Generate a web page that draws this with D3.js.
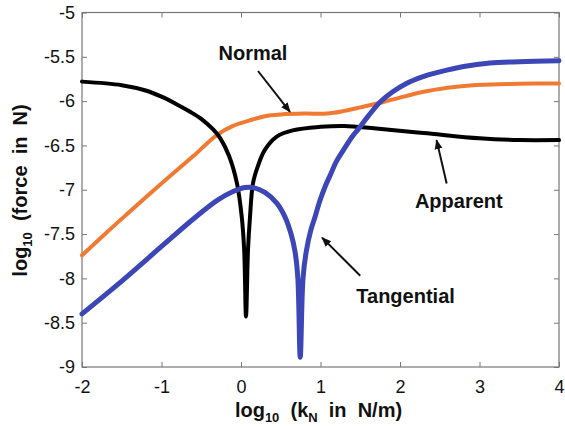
<!DOCTYPE html>
<html>
<head>
<meta charset="utf-8">
<script src="https://cdn.jsdelivr.net/npm/d3@7"></script>
<style>
  body { margin: 0; background: #fff; }
  text { font-family: Arial, "Liberation Sans", sans-serif; }
  .tick text { font-size: 18px; fill: #111; }
  .axis-title { font-size: 20px; font-weight: bold; fill: #111; }
  .note { font-size: 20px; font-weight: bold; fill: #111; }
</style>
</head>
<body>
<svg id="chart" width="565" height="427"></svg>
<script>
// log10 of spring stiffness kN (N/m) against log10 of the force (N)
var apparentX = [-2, -1.5, -1.2, -1.0, -0.8, -0.64, -0.5, -0.35, -0.26, -0.15, -0.05, 0.01, 0.04, 0.063, 0.088, 0.113, 0.15, 0.21, 0.30, 0.45, 0.65, 1.0, 1.3, 1.7, 2.3, 3.0, 3.5, 4.0];
var apparentY = [-5.78, -5.82, -5.88, -5.95, -6.04, -6.12, -6.2, -6.32, -6.42, -6.62, -6.93, -7.31, -7.68, -8.43, -7.68, -7.31, -6.93, -6.74, -6.55, -6.40, -6.33, -6.29, -6.28, -6.31, -6.36, -6.42, -6.44, -6.44];

var normalX = [-2, -1.7, -1.44, -1.0, -0.6, -0.3, -0.1, 0.1, 0.3, 0.5, 0.8, 1.08, 1.3, 1.5, 1.79, 2.0, 2.3, 2.6, 2.92, 3.5, 4.0];
var normalY = [-7.74, -7.49, -7.28, -6.93, -6.62, -6.38, -6.28, -6.22, -6.17, -6.15, -6.14, -6.14, -6.11, -6.07, -6.01, -5.96, -5.895, -5.85, -5.82, -5.805, -5.80];

var tangentialX = [-2, -1.5, -1.0, -0.6, -0.3, -0.1, 0.05, 0.15, 0.3, 0.45, 0.55, 0.63, 0.68, 0.715, 0.745, 0.78, 0.82, 0.88, 0.93, 0.99, 1.06, 1.13, 1.2, 1.29, 1.4, 1.48, 1.6, 1.75, 1.9, 2.08, 2.3, 2.5, 2.8, 3.13, 3.5, 4.0];
var tangentialY = [-8.40, -8.03, -7.64, -7.33, -7.12, -7.02, -6.975, -6.975, -7.03, -7.15, -7.30, -7.50, -7.70, -8.0, -8.89, -8.0, -7.70, -7.45, -7.31, -7.13, -6.96, -6.82, -6.68, -6.55, -6.40, -6.31, -6.17, -6.01, -5.90, -5.80, -5.72, -5.67, -5.61, -5.57, -5.555, -5.545];

var xTicks = [-2, -1, 0, 1, 2, 3, 4];
var yTicks = [-9, -8.5, -8, -7.5, -7, -6.5, -6, -5.5, -5];

// labels with arrows, in data units: text anchor, arrow tail, arrow tip
var noteText = ["Normal", "Apparent", "Tangential"];
var noteAt = [[0.15, -5.54], [2.74, -7.21], [2.07, -8.28]];
var noteFrom = [[0.214, -5.66], [2.587, -6.93], [1.50, -7.97]];
var noteTo = [[0.616, -6.12], [2.46, -6.44], [1.02, -7.54]];

var svg = d3.select("#chart");
var margin = {top: 12.5, right: 6, bottom: 60, left: 82};
var width = 565 - margin.left - margin.right;
var height = 427 - margin.top - margin.bottom;

var x = d3.scaleLinear().domain([-2, 4]).range([0, width]);
var y = d3.scaleLinear().domain([-9, -5]).range([height, 0]);

var g = svg.append("g").attr("transform", "translate(" + margin.left + "," + margin.top + ")");

var defs = svg.append("defs");
defs.append("marker")
    .attr("id", "head")
    .attr("viewBox", "0 0 10 10")
    .attr("refX", 9).attr("refY", 5)
    .attr("markerWidth", 5).attr("markerHeight", 5)
    .attr("markerUnits", "strokeWidth")
    .attr("orient", "auto")
  .append("path")
    .attr("d", "M0,1 L10,5 L0,9 z")
    .attr("fill", "#111");

// box with inward ticks on every side
function styleAxis(sel) {
  sel.select(".domain").remove();
  sel.selectAll(".tick line").attr("stroke", "#777");
}

g.append("g")
    .attr("transform", "translate(0," + height + ")")
    .call(d3.axisBottom(x).tickValues(xTicks).tickSizeInner(-5).tickSizeOuter(0).tickPadding(13).tickFormat(function(d) { return String(d); }))
    .call(styleAxis);
g.append("g")
    .call(d3.axisTop(x).tickValues(xTicks).tickSizeInner(-5).tickSizeOuter(0).tickFormat(""))
    .call(styleAxis);
g.append("g")
    .call(d3.axisLeft(y).tickValues(yTicks).tickSizeInner(-5).tickSizeOuter(0).tickPadding(7).tickFormat(function(d) { return String(d); }))
    .call(styleAxis);
g.append("g")
    .attr("transform", "translate(" + width + ",0)")
    .call(d3.axisRight(y).tickValues(yTicks).tickSizeInner(-5).tickSizeOuter(0).tickFormat(""))
    .call(styleAxis);

g.append("rect")
    .attr("width", width).attr("height", height)
    .attr("fill", "none").attr("stroke", "#777").attr("stroke-width", 1.2);

// curves
var line = d3.line()
    .x(function(d) { return x(d[0]); })
    .y(function(d) { return y(d[1]); })
    .curve(d3.curveCatmullRom.alpha(0.5));

function pairs(xs, ys) { return xs.map(function(v, i) { return [v, ys[i]]; }); }

var series = [
  {name: "Normal", pts: pairs(normalX, normalY), color: "#f07a32", w: 4},
  {name: "Apparent", pts: pairs(apparentX, apparentY), color: "#000000", w: 4},
  {name: "Tangential", pts: pairs(tangentialX, tangentialY), color: "#3d46b6", w: 5}
];

g.selectAll("path.curve")
  .data(series)
  .enter().append("path")
    .attr("class", "curve")
    .attr("d", function(d) { return line(d.pts); })
    .attr("fill", "none")
    .attr("stroke", function(d) { return d.color; })
    .attr("stroke-width", function(d) { return d.w; })
    .attr("stroke-linejoin", "round")
    .attr("stroke-linecap", "round");

// annotations
noteText.forEach(function(t, i) {
  g.append("text")
      .attr("class", "note")
      .attr("x", x(noteAt[i][0]))
      .attr("y", y(noteAt[i][1]))
      .attr("text-anchor", "middle")
      .text(t);
  g.append("line")
      .attr("x1", x(noteFrom[i][0])).attr("y1", y(noteFrom[i][1]))
      .attr("x2", x(noteTo[i][0])).attr("y2", y(noteTo[i][1]))
      .attr("stroke", "#111").attr("stroke-width", 2)
      .attr("marker-end", "url(#head)");
});

// axis titles
var xt = svg.append("text")
    .attr("class", "axis-title")
    .attr("x", margin.left + width / 2 - 2)
    .attr("y", 417)
    .attr("text-anchor", "middle")
    .attr("xml:space", "preserve");
xt.append("tspan").text("log");
xt.append("tspan").attr("font-size", "13px").attr("dy", 5).text("10");
xt.append("tspan").attr("dy", -5).text("  (k");
xt.append("tspan").attr("font-size", "13px").attr("dy", 5).text("N");
xt.append("tspan").attr("dy", -5).text("  in  N/m)");

var yt = svg.append("text")
    .attr("class", "axis-title")
    .attr("transform", "translate(27," + (margin.top + 178) + ") rotate(-90)")
    .attr("text-anchor", "middle")
    .attr("xml:space", "preserve");
yt.append("tspan").text("log");
yt.append("tspan").attr("font-size", "13px").attr("dy", 5).text("10");
yt.append("tspan").attr("dy", -5).text("  (force  in  N)");
</script>
</body>
</html>
